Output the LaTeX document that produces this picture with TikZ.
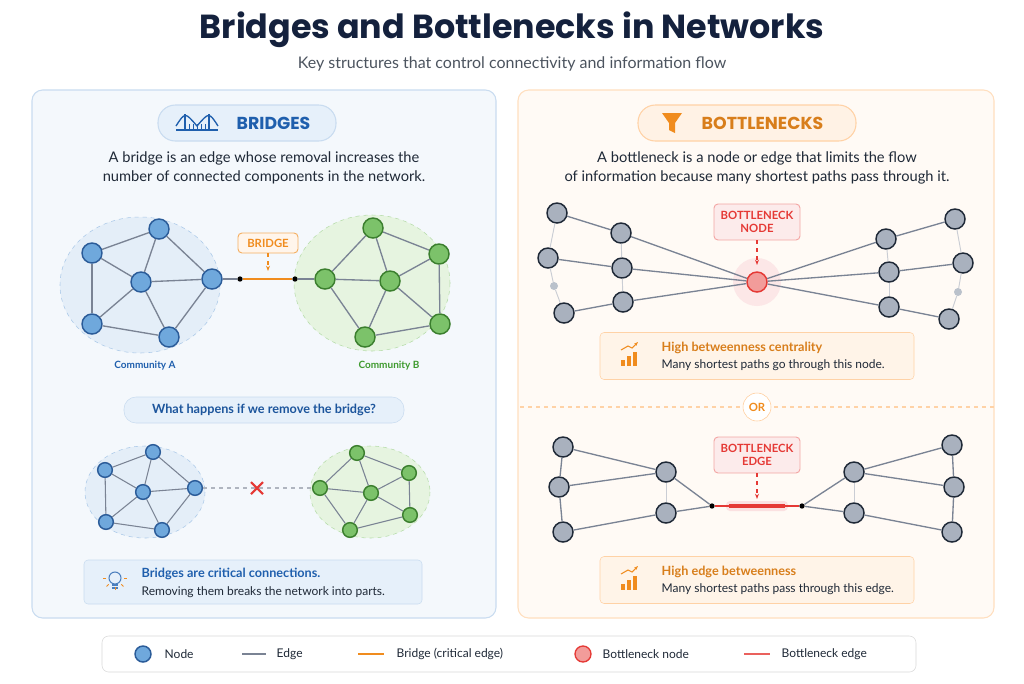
\documentclass[tikz,border=0pt]{standalone}
\usepackage{fontspec}
\setmainfont{Lato}
\newfontfamily\titlefont{Poppins}
\usetikzlibrary{arrows.meta,calc}
\definecolor{navy}{HTML}{14213D}
\definecolor{txt}{HTML}{1F2937}
\definecolor{bluef}{HTML}{6FA8DC}\definecolor{blueb}{HTML}{2B5C99}
\definecolor{greenf}{HTML}{7CC26A}\definecolor{greenb}{HTML}{3B7F2E}
\definecolor{grayf}{HTML}{A9B1BE}\definecolor{grayb}{HTML}{1F2937}
\definecolor{edgec}{HTML}{7A8394}
\definecolor{orng}{HTML}{F08C1E}
\definecolor{redc}{HTML}{E53935}
\definecolor{bluet}{HTML}{1F5FAD}
\definecolor{greent}{HTML}{3E9A2E}
\definecolor{lbpanel}{HTML}{F4F8FC}
\definecolor{lbborder}{HTML}{C9DCF0}
\definecolor{lbfill}{HTML}{E6F0FA}
\definecolor{lbell}{HTML}{E4EEF8}
\definecolor{lbdash}{HTML}{A9C8E8}
\definecolor{lgell}{HTML}{E6F4E0}
\definecolor{lgdash}{HTML}{B5DCA8}
\tikzset{
 bn/.style={circle,draw=blueb,fill=bluef,line width=1.1pt,minimum size=15pt,inner sep=0},
 gn/.style={circle,draw=greenb,fill=greenf,line width=1.1pt,minimum size=15pt,inner sep=0},
 sbn/.style={bn,minimum size=11pt},
 sgn/.style={gn,minimum size=11pt},
 kn/.style={circle,draw=grayb,fill=grayf,line width=1.1pt,minimum size=15pt,inner sep=0},
 kdot/.style={circle,fill=grayf!80,minimum size=6pt,inner sep=0},
 jdot/.style={circle,fill=black,minimum size=4pt,inner sep=0},
 ed/.style={draw=edgec,line width=1pt},
 led/.style={draw=edgec!40,line width=0.7pt},
 panel/.style={rounded corners=8pt,line width=0.8pt},
 lbl/.style={font=\bfseries\fontsize{8.5}{10}\selectfont,align=center,rounded corners=3pt,line width=0.7pt},
 body/.style={font=\fontsize{11}{14}\selectfont,text=txt,align=center},
}
\begin{document}
\begin{tikzpicture}[x=0.75pt,y=-0.75pt]
\useasboundingbox (0,0) rectangle (1024,683);
\fill[white] (0,0) rectangle (1024,683);
\node[font=\titlefont\bfseries\fontsize{25}{30}\selectfont,text=navy] (title) at (512,30) {Bridges and Bottlenecks in Networks};
\node[font=\fontsize{12}{14}\selectfont,text=txt!80] (sub) at (512,64) {Key structures that control connectivity and information flow};
% panels
\draw[panel,fill=lbpanel,draw=lbborder] (32,90) rectangle (496,618);
\draw[panel,fill=orange!4,draw=orange!25] (518,90) rectangle (994,618);
% headers
\node[draw=lbborder,fill=lbfill,rounded corners=13pt,minimum width=178*0.75pt,minimum height=36*0.75pt,line width=0.8pt] (hb) at (247,123) {};
\node[font=\titlefont\bfseries\fontsize{13}{15}\selectfont,text=bluet,anchor=west] (hbt) at (232,123) {BRIDGES};
\begin{scope}[draw=bluet,line width=1pt]
\draw (176,130)--(218,130);
\draw (185,114)--(185,130) (209,114)--(209,130);
\draw (176,126) .. controls (185,112) .. (197,126) .. controls (209,112) .. (218,126);
\foreach \x in {189,193,197,201,205}{\draw[line width=0.6pt] (\x,124)--(\x,130);}
\end{scope}
\node[draw=orange!35,fill=orange!10,rounded corners=13pt,minimum width=218*0.75pt,minimum height=36*0.75pt,line width=0.8pt] (hk) at (747,123) {};
\node[font=\titlefont\bfseries\fontsize{13}{15}\selectfont,text=orng!90!black,anchor=west] (hkt) at (697,123) {BOTTLENECKS};
\fill[orng] (662,113)--(682,113)--(675,123)--(675,133)--(669,130)--(669,123)--cycle;
\node[body] (d1) at (264,168) {A bridge is an edge whose removal increases the\\number of connected components in the network.};
\node[body] (d2) at (757,168) {A bottleneck is a node or edge that limits the flow\\of information because many shortest paths pass through it.};
% communities
\draw[lbdash,dashed,fill=lbell] (140,285) ellipse (80 and 68);
\draw[lgdash,dashed,fill=lgell] (372,283) ellipse (78 and 68);
\node[bn] (a1) at (159,229) {};\node[bn] (a2) at (92,253) {};\node[bn] (a3) at (141,282) {};
\node[bn] (a4) at (212,279) {};\node[bn] (a5) at (92,324) {};\node[bn] (a6) at (169,337) {};
\node[gn] (b1) at (373,228) {};\node[gn] (b2) at (439,254) {};\node[gn] (b3) at (325,279) {};
\node[gn] (b4) at (390,281) {};\node[gn] (b5) at (440,324) {};\node[gn] (b6) at (365,337) {};
\foreach \u/\v in {a1/a2,a1/a3,a1/a4,a2/a3,a2/a5,a3/a4,a3/a5,a3/a6,a5/a6,a4/a6,b1/b2,b1/b3,b1/b4,b3/b4,b3/b6,b4/b2,b4/b5,b4/b6,b2/b5,b6/b5}
 \path[ed] (\u)--(\v);
\node[jdot] (j1) at (240,279) {};\node[jdot] (j2) at (295,279) {};
\draw[ed] (a4)--(j1) (j2)--(b3);
\draw[orng,line width=2.2pt] (j1)--(j2);
\node[lbl,draw=orng!70,fill=orange!8,text=orng,minimum width=60*0.75pt,minimum height=20*0.75pt] (bl) at (268,243) {BRIDGE};
\coordinate (bt) at (268,271);
\draw[orng,dashed,-{Stealth[length=4pt]},line width=0.8pt] (bl)--(bt);
\node[font=\bfseries\fontsize{7.5}{9}\selectfont,text=bluet] (ca) at (145,366) {Community A};
\node[font=\bfseries\fontsize{7.5}{9}\selectfont,text=greent] (cb) at (389,366) {Community B};
\node[draw=lbborder,fill=lbfill,rounded corners=9pt,minimum width=280*0.75pt,minimum height=26*0.75pt,font=\bfseries\fontsize{9.5}{11}\selectfont,text=bluet!90!black] (q) at (264,410) {What happens if we remove the bridge?};
% small networks
\draw[lbdash,dashed,fill=lbell] (145,492) ellipse (60 and 46);
\draw[lgdash,dashed,fill=lgell] (370,492) ellipse (60 and 46);
\node[sbn] (c1) at (153,452) {};\node[sbn] (c2) at (105,470) {};\node[sbn] (c3) at (143,492) {};
\node[sbn] (c4) at (195,488) {};\node[sbn] (c5) at (106,522) {};\node[sbn] (c6) at (162,530) {};
\node[sgn] (e1) at (357,453) {};\node[sgn] (e2) at (409,473) {};\node[sgn] (e3) at (320,488) {};
\node[sgn] (e4) at (371,493) {};\node[sgn] (e5) at (410,515) {};\node[sgn] (e6) at (350,530) {};
\foreach \u/\v in {c1/c2,c1/c3,c1/c4,c2/c3,c2/c5,c3/c4,c3/c5,c3/c6,c5/c6,c4/c6,e1/e2,e1/e3,e1/e4,e3/e4,e3/e6,e4/e2,e4/e5,e4/e6,e2/e5,e6/e5}
 \path[ed,line width=0.8pt] (\u)--(\v);
\draw[edgec!60,dashed,line width=0.8pt] (c4)--(e3);
\draw[redc,line width=1.6pt] (251,482)--(263,494) (251,494)--(263,482);
\node[draw=lbborder,fill=lbfill,rounded corners=3pt,minimum width=338*0.75pt,minimum height=44*0.75pt] (tip) at (253,582) {};
\node[font=\bfseries\fontsize{9.5}{11}\selectfont,text=bluet,anchor=west] (t1) at (137,574) {Bridges are critical connections.};
\node[font=\fontsize{9}{11}\selectfont,text=txt,anchor=west] (t2) at (137,592) {Removing them breaks the network into parts.};
\draw[bluet!80,line width=0.8pt] (115,578) circle (6);
\draw[bluet!80,line width=0.8pt] (112,585)--(118,585) (112,588)--(118,588);
\foreach \a in {90,135,45,180,0}{\draw[orng,line width=0.7pt] ($(115,578)+(\a:9)$)--($(115,578)+(\a:12)$);}
% bottleneck node
\fill[redc!12] (757,282) circle (24);
\node[kn] (l1) at (557,213) {};\node[kn] (l2) at (621,233) {};\node[kn] (l3) at (548,258) {};
\node[kn] (l4) at (622,268) {};\node[kdot] (l5) at (554,286) {};\node[kn] (l6) at (564,313) {};
\node[kn] (l7) at (623,302) {};
\node[kn] (r1) at (886,239) {};\node[kn] (r2) at (955,219) {};\node[kn] (r3) at (889,272) {};
\node[kn] (r4) at (963,263) {};\node[kn] (r5) at (889,307) {};\node[kdot] (r6) at (958,292) {};
\node[kn] (r7) at (949,319) {};
\node[circle,draw=redc,fill=redc!50,line width=1.1pt,minimum size=15pt,inner sep=0] (cn) at (757,282) {};
\foreach \u/\v in {l1/l3,l3/l5,l5/l6,l2/l4,l4/l7,r2/r4,r4/r6,r6/r7,r1/r3,r3/r5} \path[led] (\u)--(\v);
\foreach \u/\v in {l1/l2,l3/l4,l6/l7,l2/cn,l4/cn,l7/cn,r1/cn,r3/cn,r5/cn,r1/r2,r3/r4,r5/r7} \path[ed] (\u)--(\v);
\node[lbl,draw=redc!45,fill=redc!10,text=redc,minimum width=86*0.75pt,minimum height=36*0.75pt] (nl) at (757,222) {BOTTLENECK\\NODE};
\coordinate (nt) at (757,265);
\draw[redc,dashed,-{Stealth[length=4pt]},line width=0.8pt] (nl)--(nt);
% info box 1
\node[draw=orange!35,fill=orange!9,rounded corners=3pt,minimum width=314*0.75pt,minimum height=47*0.75pt] (i1) at (757,356) {};
\node[font=\bfseries\fontsize{9.5}{11}\selectfont,text=orng!90!black,anchor=west] (i1a) at (657,348) {High betweenness centrality};
\node[font=\fontsize{9}{11}\selectfont,text=txt,anchor=west] (i1b) at (657,365) {Many shortest paths go through this node.};
\foreach \i/\h in {0/6,1/10,2/14}{\fill[orng] (621+\i*6,366) rectangle ++(4,-\h);}
\draw[orng,line width=0.8pt,-{Stealth[length=3pt]}] (621,350)--(628,346)--(632,348)--(638,342);
% separator
\draw[orange!35,dashed,line width=0.8pt] (520,407)--(740,407) (774,407)--(994,407);
\node[circle,draw=orange!40,fill=white,minimum size=28*0.75pt,inner sep=0,font=\bfseries\fontsize{8.5}{10}\selectfont,text=orng] (or) at (757,407) {OR};
% bottleneck edge
\node[kn] (m1) at (563,447) {};\node[kn] (m2) at (559,487) {};\node[kn] (m3) at (563,532) {};
\node[kn] (m4) at (666,472) {};\node[kn] (m5) at (666,513) {};
\node[kn] (n1) at (854,472) {};\node[kn] (n2) at (854,513) {};
\node[kn] (n3) at (952,445) {};\node[kn] (n4) at (954,487) {};\node[kn] (n5) at (952,532) {};
\node[jdot] (k1) at (712,506) {};\node[jdot] (k2) at (802,506) {};
\foreach \u/\v in {m1/m2,m2/m3,n3/n4,n4/n5} \path[ed] (\u)--(\v);
\foreach \u/\v in {m4/m5,n1/n2} \path[led] (\u)--(\v);
\foreach \u/\v in {m1/m4,m2/m4,m3/m5,m4/k1,m5/k1,n1/k2,n2/k2,n3/n1,n4/n1,n5/n2} \path[ed] (\u)--(\v);
\fill[redc!15,rounded corners=3pt] (726,501) rectangle (788,511);
\draw[redc,line width=0.8pt] (k1)--(k2);
\draw[redc,line width=2.4pt] (729,506)--(785,506);
\node[lbl,draw=redc!45,fill=redc!10,text=redc,minimum width=86*0.75pt,minimum height=36*0.75pt] (el) at (757,455) {BOTTLENECK\\EDGE};
\coordinate (et) at (757,499);
\draw[redc,dashed,-{Stealth[length=4pt]},line width=0.8pt] (el)--(et);
\node[draw=orange!35,fill=orange!9,rounded corners=3pt,minimum width=314*0.75pt,minimum height=47*0.75pt] (i2) at (757,580) {};
\node[font=\bfseries\fontsize{9.5}{11}\selectfont,text=orng!90!black,anchor=west] (i2a) at (657,572) {High edge betweenness};
\node[font=\fontsize{9}{11}\selectfont,text=txt,anchor=west] (i2b) at (657,589) {Many shortest paths pass through this edge.};
\foreach \i/\h in {0/6,1/10,2/14}{\fill[orng] (621+\i*6,590) rectangle ++(4,-\h);}
\draw[orng,line width=0.8pt,-{Stealth[length=3pt]}] (621,574)--(628,570)--(632,572)--(638,566);
% legend
\node[draw=black!15,fill=white,rounded corners=5pt,minimum width=814*0.75pt,minimum height=36*0.75pt] (leg) at (509,654) {};
\tikzset{lt/.style={font=\fontsize{9}{11}\selectfont,text=txt,anchor=west}}
\node[bn,minimum size=12pt] (g1) at (143,654) {};\node[lt] (g1t) at (160,654) {Node};
\draw[edgec,line width=1.4pt] (242,654)--(266,654);\node[lt] (g2t) at (272,654) {Edge};
\draw[orng,line width=1.8pt] (358,654)--(384,654);\node[lt] (g3t) at (392,654) {Bridge (critical edge)};
\node[circle,draw=redc,fill=redc!50,line width=1pt,minimum size=12pt,inner sep=0] (g2) at (583,654) {};\node[lt] (g4t) at (598,654) {Bottleneck node};
\draw[redc!80,line width=1.8pt] (744,654)--(770,654);\node[lt] (g5t) at (777,654) {Bottleneck edge};
\end{tikzpicture}
\end{document}
